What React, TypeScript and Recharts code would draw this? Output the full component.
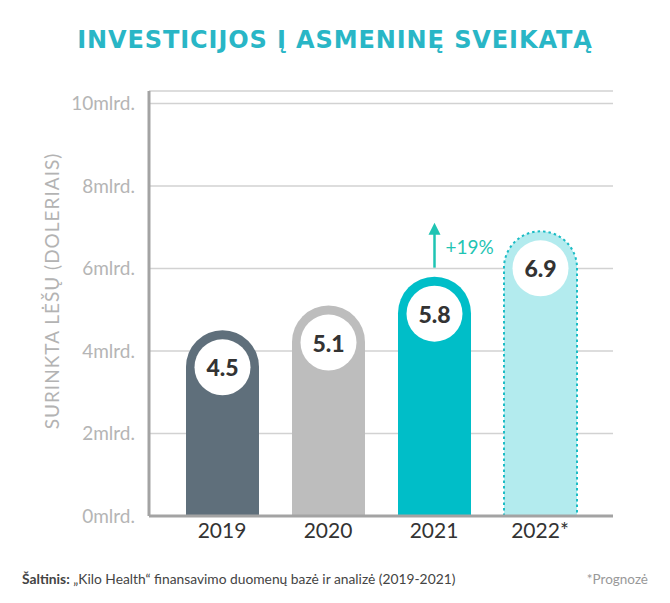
import React from "react";
import { ComposedChart, Bar, XAxis, YAxis, CartesianGrid, Cell, LabelList } from "recharts";

const years = ["2019", "2020", "2021", "2022*"];
const funding = [4.5, 5.1, 5.8, 6.9];
const growthNotes = ["", "", "+19%", ""];
const yTicks = [0, 2, 4, 6, 8, 10];
const barColors = ["#5f6f7b", "#bdbdbd", "#00bec8", "#b3ebee"];

const data = years.map((year, i) => ({ year, funding: funding[i], growth: growthNotes[i] }));

const FONT = "Lato, 'Open Sans', sans-serif";

function PillBar(props: any) {
  const { x, y, width, height, index } = props;
  if (!width || height == null) return null;
  const r = width / 2;
  const bottom = y + height;
  const outline = `M${x},${bottom} L${x},${y + r} A${r},${r} 0 0 1 ${x + width},${y + r} L${x + width},${bottom}`;
  const forecast = index === 3;
  return (
    <g>
      <path d={outline + " Z"} fill={props.fill || barColors[index]} />
      {forecast && (
        <path d={outline} fill="none" stroke="#1bbcc5" strokeWidth={2} strokeDasharray="2.5 3" />
      )}
    </g>
  );
}

function Bubble(props: any) {
  const { x, y, width, value, index } = props;
  const cx = x + width / 2;
  const cy = y + 37;
  const note = growthNotes[index];
  return (
    <g>
      <circle cx={cx} cy={cy} r={28} fill="#fff" />
      <text x={cx} y={cy} textAnchor="middle" dominantBaseline="central" fontFamily={FONT} fontWeight={900} fontSize={23} fill="#333">
        {value}
      </text>
      {note && (
        <g>
          <line x1={cx} y1={y - 9} x2={cx} y2={y - 46} stroke="#1fc4b3" strokeWidth={2.5} />
          <polygon points={`${cx - 6},${y - 42} ${cx + 6},${y - 42} ${cx},${y - 54}`} fill="#1fc4b3" />
          <text x={cx + 11} y={y - 30} dominantBaseline="central" fontFamily={FONT} fontSize={19} fill="#1fc4b3">
            {note}
          </text>
        </g>
      )}
    </g>
  );
}

function YearTick(props: any) {
  const { x, y, payload } = props;
  return (
    <text x={x} y={y + 14} textAnchor="middle" fontFamily={FONT} fontSize={21} fill="#333">
      {payload.value}
    </text>
  );
}

function AxisTitle() {
  return (
    <text
      x={51}
      y={291}
      transform="rotate(-90, 51, 291)"
      textAnchor="middle"
      dominantBaseline="central"
      fontFamily={FONT}
      fontSize={19}
      letterSpacing={1}
      fill="#b3b3b3"
    >
      SURINKTA LĖŠŲ (DOLERIAIS)
    </text>
  );
}

export default function App() {
  return (
    <div style={{ position: "absolute", left: 0, top: 0, width: 670, height: 603, background: "#fff", fontFamily: FONT }}>
      <div
        style={{
          position: "absolute",
          top: 26,
          width: 670,
          textAlign: "center",
          fontFamily: "'DejaVu Sans', sans-serif",
          fontWeight: 700,
          fontSize: 24,
          color: "#29b6c6",
          letterSpacing: 0.9,
        }}
      >
        INVESTICIJOS Į ASMENINĘ SVEIKATĄ
      </div>
      <ComposedChart width={670} height={603} data={data} margin={{ top: 91, right: 57, bottom: 57, left: 69 }}>
        <CartesianGrid vertical={false} stroke="#d2d2d2" strokeWidth={1.5} />
        <XAxis
          dataKey="year"
          axisLine={{ stroke: "#a3a3a3", strokeWidth: 3 }}
          tickLine={false}
          padding={{ left: 20, right: 20 }}
          height={30}
          tick={<YearTick />}
          interval={0}
        />
        <YAxis
          domain={[0, 10.3]}
          ticks={yTicks}
          tickFormatter={(v: number) => `${v}mlrd.`}
          axisLine={{ stroke: "#a3a3a3", strokeWidth: 3 }}
          tickLine={false}
          tickMargin={8}
          width={80}
          tick={{ fill: "#b5b5b5", fontSize: 19, fontFamily: FONT }}
          label={<AxisTitle />}
        />
        <Bar dataKey="funding" barSize={73} shape={<PillBar />} isAnimationActive={false}>
          {data.map((d, i) => (
            <Cell key={d.year} fill={barColors[i]} />
          ))}
          <LabelList dataKey="funding" content={<Bubble />} />
        </Bar>
      </ComposedChart>
      <div style={{ position: "absolute", top: 570, left: 22, fontSize: 13.8, color: "#444" }}>
        <b>Šaltinis:</b> „Kilo Health“ finansavimo duomenų bazė ir analizė (2019-2021)
      </div>
      <div style={{ position: "absolute", top: 571, right: 22, fontSize: 13.5, color: "#999" }}>*Prognozė</div>
    </div>
  );
}
